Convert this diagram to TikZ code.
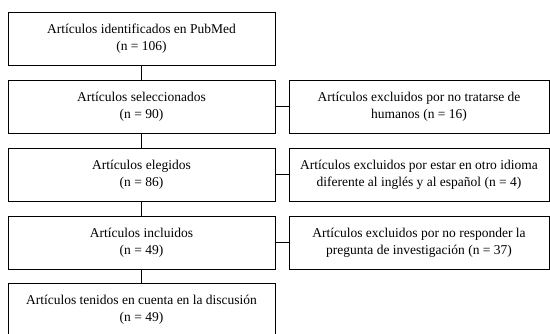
\documentclass[tikz,border=0pt]{standalone}
\usepackage{fontspec}
\setmainfont{Liberation Serif}
\begin{document}
\begin{tikzpicture}[x=1pt, y=-1pt,
    box/.style={draw, line width=1pt, align=center, minimum height=53pt,
      inner sep=0pt, font=\fontsize{13.5}{17}\selectfont},
    mainbox/.style={box, minimum width=267pt},
    exclbox/.style={box, minimum width=260pt},
    link/.style={line width=1pt}]
    \useasboundingbox (0,0) rectangle (550,333);

    % main column
    \node[mainbox] (ident) at (141.5,39) {Artículos identificados en PubMed\\(n = 106)};
    \node[mainbox] (selec) at (141.5,106.5) {Artículos seleccionados\\(n = 90)};
    \node[mainbox] (elegi) at (141.5,174.5) {Artículos elegidos\\(n = 86)};
    \node[mainbox] (inclu) at (141.5,242.5) {Artículos incluidos\\(n = 49)};
    \node[mainbox] (discu) at (141.5,309.5) {Artículos tenidos en cuenta en la discusión\\(n = 49)};

    % excluded column
    \node[exclbox] (exhum) at (419,106.5) {Artículos excluidos por no tratarse de\\humanos (n = 16)};
    \node[exclbox] (exidi) at (419,174.5) {Artículos excluidos por estar en otro idioma\\diferente al inglés y al español (n = 4)};
    \node[exclbox] (expre) at (419,242.5) {Artículos excluidos por no responder la\\pregunta de investigación (n = 37)};

    % connectors
    \draw[link] (ident) -- (selec);
    \draw[link] (selec) -- (elegi);
    \draw[link] (elegi) -- (inclu);
    \draw[link] (inclu) -- (discu);
    \draw[link] (selec) -- (exhum);
    \draw[link] (elegi) -- (exidi);
    \draw[link] (inclu) -- (expre);
\end{tikzpicture}
\end{document}
